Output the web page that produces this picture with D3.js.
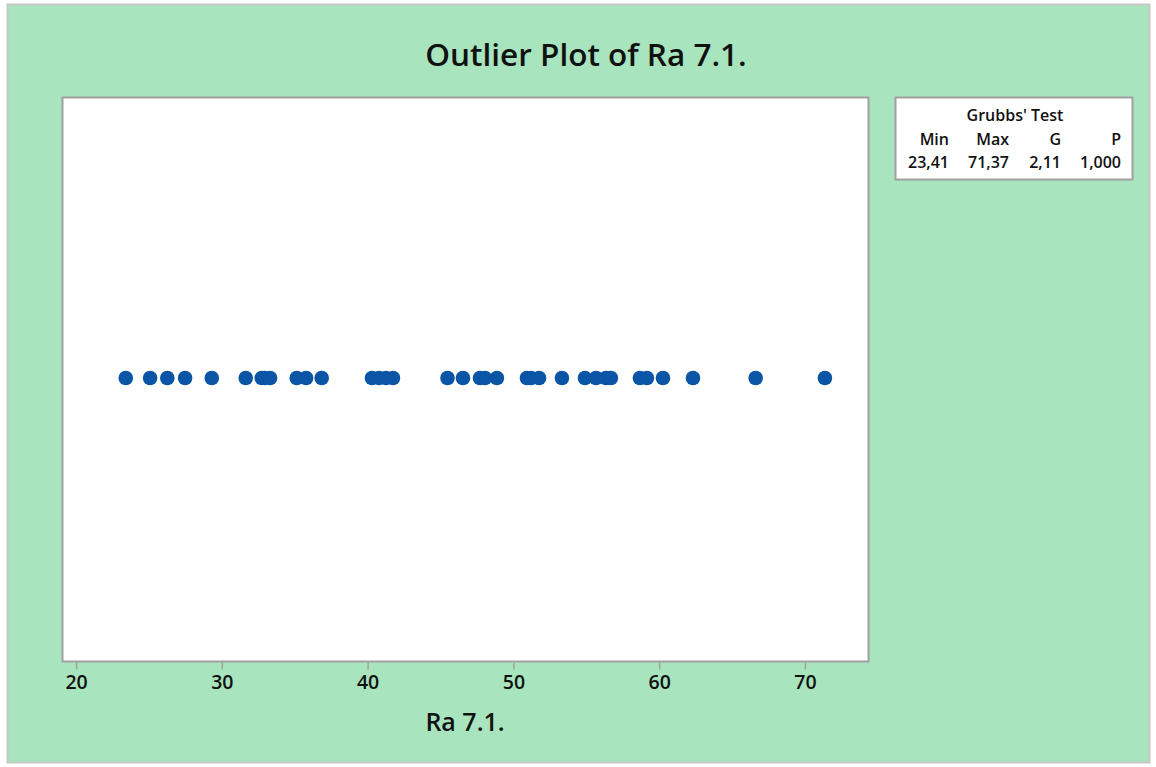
<!DOCTYPE html>
<html><head><meta charset="utf-8">
<script src="https://cdn.jsdelivr.net/npm/d3@7/dist/d3.min.js"></script>
<style>
html,body{margin:0;padding:0;background:#fff;}
svg text{font-family:"Open Sans","Noto Sans",sans-serif;}
</style></head>
<body><svg id="chart" width="1156" height="767"></svg>
<script>
const values = [23.41,25.08,26.26,27.48,29.31,31.64,32.74,32.96,33.31,35.14,35.78,36.85,
  40.30,40.78,41.26,41.74,45.48,46.54,47.71,48.05,48.87,50.93,51.21,51.76,53.33,
  54.91,55.67,56.35,56.69,58.68,59.16,60.26,62.32,66.62,71.37];
const tickValues = [20,30,40,50,60,70];
const title = "Outlier Plot of Ra 7.1.";
const xLabel = "Ra 7.1.";
const testTitle = "Grubbs' Test";
const testHeaders = ["Min","Max","G","P"];
const testValues = ["23,41","71,37","2,11","1,000"];

const svg = d3.select("#chart");
svg.append("rect").attr("x",0).attr("y",0).attr("width",1156).attr("height",767).attr("fill","#ffffff");
svg.append("rect").attr("x",7.5).attr("y",4.5).attr("width",1142).attr("height",758)
  .attr("fill","#a8e5be").attr("stroke","#c8c8c8").attr("stroke-width",2);

const plot = {x:62.5, y:97.5, w:806, h:564};
const x = d3.scaleLinear().domain([19.07,74.36]).range([plot.x, plot.x+plot.w]);

svg.append("rect").attr("x",plot.x).attr("y",plot.y).attr("width",plot.w).attr("height",plot.h)
  .attr("fill","#ffffff").attr("stroke","#a0a0a0").attr("stroke-width",2);

const axis = d3.axisBottom(x).tickValues(tickValues).tickSize(7).tickPadding(6).tickFormat(d3.format("d"));
const gx = svg.append("g").attr("transform",`translate(0,${plot.y+plot.h+1})`).call(axis);
gx.select(".domain").remove();
gx.selectAll(".tick line").attr("stroke","#a0a0a0").attr("stroke-width",1.5);
gx.selectAll(".tick text").attr("font-size",19.5).attr("font-weight",600).attr("fill","#111");

svg.append("g").selectAll("circle").data(values).join("circle")
  .attr("cx",d=>x(d)).attr("cy",378).attr("r",7.3)
  .attr("fill","#0a55a6");

svg.append("text").attr("x",586).attr("y",66).attr("text-anchor","middle")
  .attr("font-size",31.5).attr("font-weight",600).attr("fill","#111").text(title);
svg.append("text").attr("x",465).attr("y",731).attr("text-anchor","middle")
  .attr("font-size",25).attr("font-weight",600).attr("fill","#111").text(xLabel);

// Grubbs' test box
const box = {x:895.5, y:97.5, w:237, h:82};
svg.append("rect").attr("x",box.x).attr("y",box.y).attr("width",box.w).attr("height",box.h)
  .attr("fill","#ffffff").attr("stroke","#a0a0a0").attr("stroke-width",2);
svg.append("text").attr("x",1015).attr("y",121).attr("text-anchor","middle")
  .attr("font-size",16).attr("font-weight",600).attr("fill","#111").text(testTitle);
const colX = [949,1009,1061,1121];
svg.append("g").selectAll("text").data(testHeaders).join("text")
  .attr("x",(d,i)=>colX[i]).attr("y",145).attr("text-anchor","end")
  .attr("font-size",16).attr("font-weight",600).attr("fill","#111").text(d=>d);
svg.append("g").selectAll("text").data(testValues).join("text")
  .attr("x",(d,i)=>colX[i]).attr("y",168).attr("text-anchor","end")
  .attr("font-size",16).attr("font-weight",600).attr("fill","#111").text(d=>d);
</script></body></html>
